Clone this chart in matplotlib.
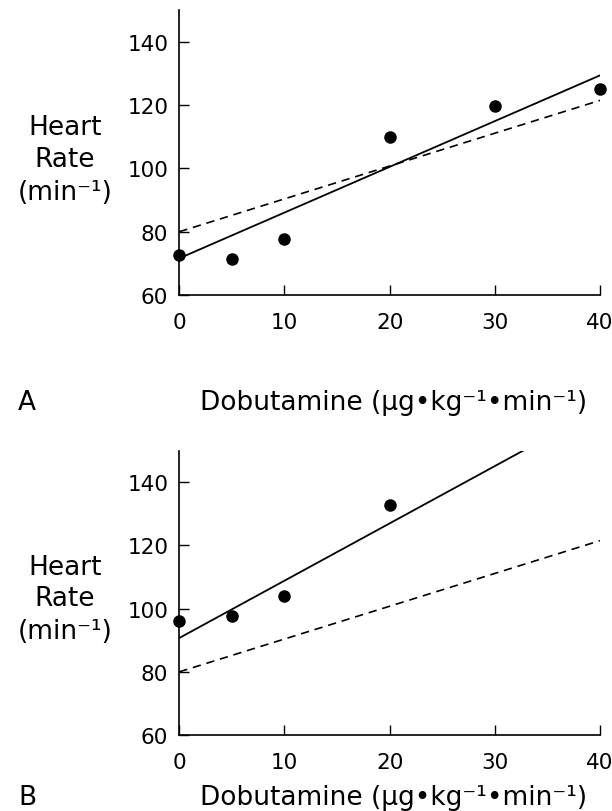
import matplotlib
matplotlib.use('Agg')
import matplotlib.pyplot as plt

# dose-response data, panel A and panel B
dose_a = [0, 5, 10, 20, 30, 40]
hr_a = [72.6, 71.4, 77.6, 109.8, 119.8, 125.1]
dose_b = [0, 5, 10, 20]
hr_b = [96.0, 97.7, 103.9, 132.9]

# regression lines (end points)
fit_a_x = [0, 40]
fit_a_y = [71.6, 129.4]
fit_b_x = [0, 32.7]
fit_b_y = [90.7, 150.0]
normal_x = [0, 40]
normal_y = [80.0, 121.5]

xticks = [0, 10, 20, 30, 40]
yticks = [60, 80, 100, 120, 140]
panel_labels = ['A', 'B']
xlabel = 'Dobutamine (µg•kg⁻¹•min⁻¹)'
ylabel_lines = ['Heart', 'Rate', '(min⁻¹)']

W, H = 612, 812
fig = plt.figure(figsize=(W / 100, H / 100), dpi=100)

def px(x, y):
    return x / W, 1 - y / H

# axes boxes in pixels: left, right, y of 60, y of 150
boxes = [(179.3, 600, 296, 11.2), (179.3, 600, 736, 451.6)]
panels = [(dose_a, hr_a, fit_a_x, fit_a_y), (dose_b, hr_b, fit_b_x, fit_b_y)]
label_base = [410, 805]
ylab_base = [[135, 167, 200], [575, 606, 639]]

for i, (box, data) in enumerate(zip(boxes, panels)):
    l, r, b, t = box
    ax = fig.add_axes([l / W, 1 - b / H, (r - l) / W, (b - t) / H])
    dose, hr, fx, fy = data
    ax.plot(normal_x, normal_y, color='black', lw=1.2, ls=(0, (5, 3.5)))
    ax.plot(fx, fy, color='black', lw=1.3)
    ax.plot(dose, hr, 'o', color='black', ms=8, clip_on=False, zorder=5)

    ax.set_xlim(0, 40)
    ax.set_ylim(60, 150)
    ax.set_xticks(xticks)
    ax.set_yticks(yticks)
    for s in ['top', 'right']:
        ax.spines[s].set_visible(False)
    for s in ['left', 'bottom']:
        ax.spines[s].set_linewidth(1.2)
    ax.tick_params(axis='both', direction='in', length=7, width=1.0,
                   labelsize=15.5)
    ax.tick_params(axis='y', pad=8)
    ax.tick_params(axis='x', pad=12)

    # panel letter and x-axis title
    x0, y0 = px(18, label_base[i])
    fig.text(x0, y0, panel_labels[i], fontsize=19, ha='left', va='baseline')
    x0, y0 = px(393.5, label_base[i])
    fig.text(x0, y0, xlabel, fontsize=19, ha='center', va='baseline')

    # stacked y-axis title
    for line, yb in zip(ylabel_lines, ylab_base[i]):
        x0, y0 = px(65, yb)
        fig.text(x0, y0, line, fontsize=19, ha='center', va='baseline')

fig.savefig('out.png', dpi=100)
